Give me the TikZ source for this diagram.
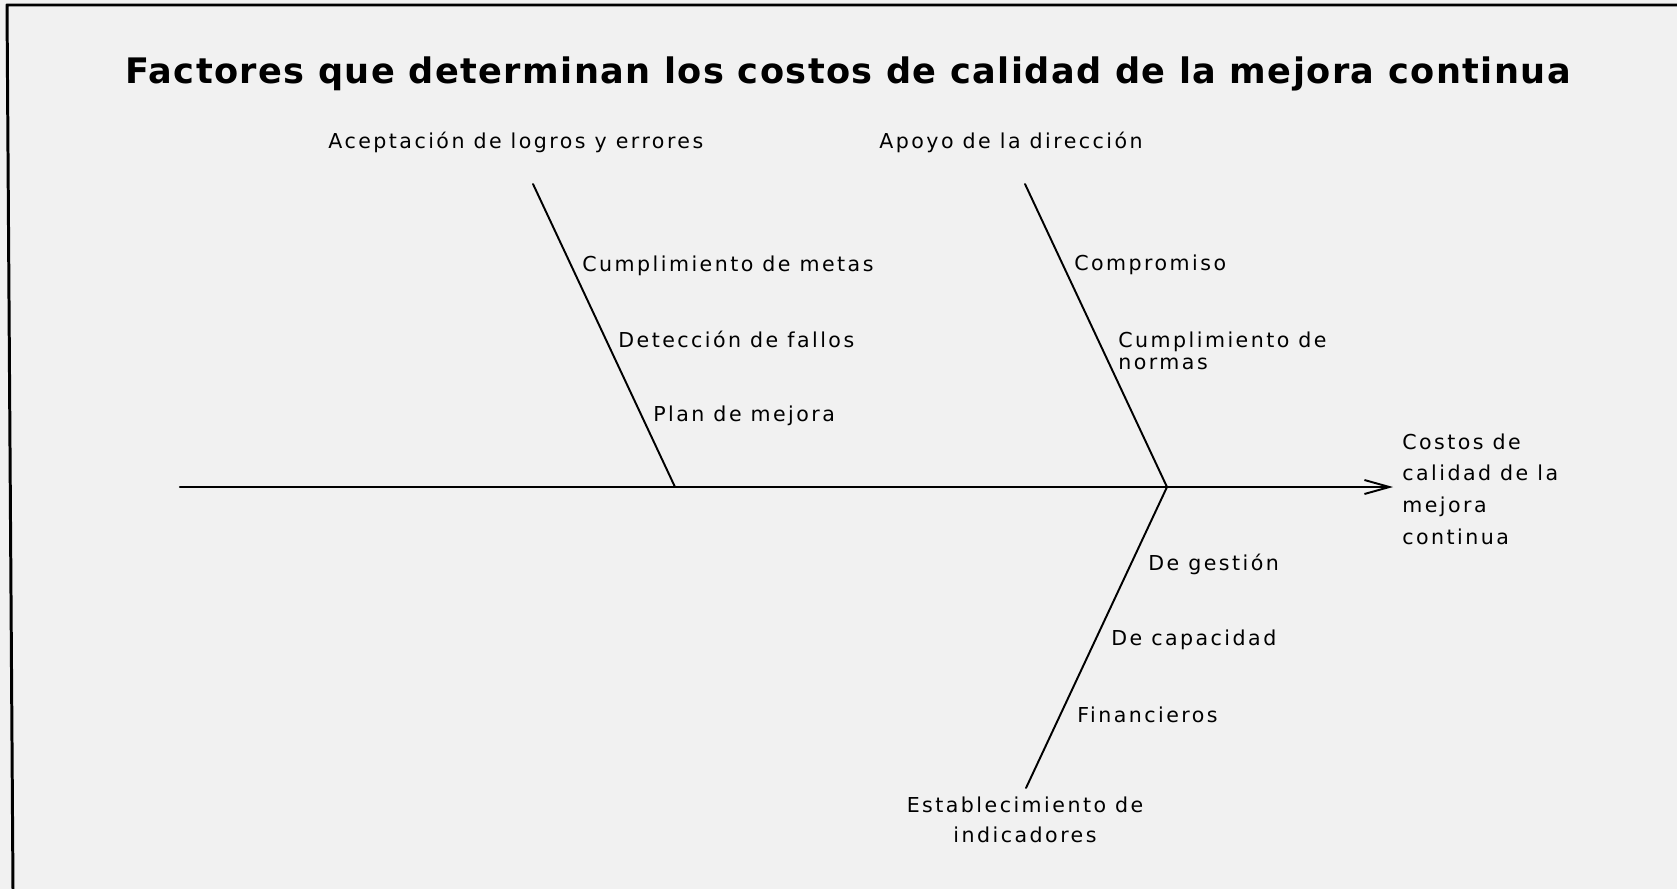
\documentclass[tikz,border=0pt]{standalone}
\usepackage{fontspec}
\setmainfont{DejaVu Sans}
\newfontfamily\lblfont[LetterSpace=12]{DejaVu Sans}
\newfontfamily\ttlfont[LetterSpace=4]{DejaVu Sans}
\usetikzlibrary{arrows.meta}
\definecolor{paper}{HTML}{F1F1F1}
\tikzset{
  every picture/.style={line join=round, line cap=round},
  frame/.style={line width=1.7pt},
  bone/.style={line width=1.1pt},
  spine/.style={line width=1.2pt, -{Straight Barb[length=0.5cm, width=0.28cm, line width=1.1pt]}},
  cause/.style={inner sep=0pt, font=\lblfont\fontsize{11.7}{18}\selectfont},
  sub/.style={cause, anchor=base west},
}

\begin{document}
\begin{tikzpicture}[x=0.02cm, y=-0.02cm]
\fill[paper] (0,0) rectangle (1677,889);
\useasboundingbox (0,0) rectangle (1677,889);
\draw[frame] (1677,5) -- (7,5) -- (13,889);
\node[inner sep=0pt, anchor=base, font=\ttlfont\bfseries\fontsize{20}{24}\selectfont] (title) at (848,83)
  {Factores que determinan los costos de calidad de la mejora continua};
% causas principales
\node[cause, anchor=base west] (aceptacion) at (328,148) {Aceptación de logros y errores};
\node[cause, anchor=base west] (apoyo) at (879,148) {Apoyo de la dirección};
\node[cause, anchor=north, align=center, font=\lblfont\fontsize{11.7}{17}\selectfont] (indicadores) at (1025,797)
  {Establecimiento de\\indicadores};
\node[cause, anchor=west, align=left, inner xsep=0.18cm] (costos) at (1393,489)
  {Costos de\\calidad de la\\mejora\\continua};
% espina y huesos
\coordinate (cola) at (180,487);
\coordinate (jA) at (675,487);
\coordinate (jB) at (1167,487);
\coordinate (topA) at (533,184);
\coordinate (topB) at (1025,184);
\coordinate (botB) at (1026,788);
\draw[spine] (cola) -- (cola -| costos.west);
\draw[bone] (topA) -- (jA);
\draw[bone] (topB) -- (jB);
\draw[bone] (jB) -- (botB);
% subcausas
\node[sub] (metas) at (582,271) {Cumplimiento de metas};
\node[sub] (fallos) at (618,347) {Detección de fallos};
\node[sub] (plan) at (653,421) {Plan de mejora};
\node[sub] (compromiso) at (1074,270) {Compromiso};
\node[cause, anchor=north west, align=left, font=\lblfont\fontsize{11.7}{12.5}\selectfont] (normas) at (1118,332)
  {Cumplimiento de\\normas};
\node[sub] (gestion) at (1148,570) {De gestión};
\node[sub] (capacidad) at (1111,645) {De capacidad};
\node[sub] (financieros) at (1077,722) {Financieros};
\end{tikzpicture}
\end{document}
